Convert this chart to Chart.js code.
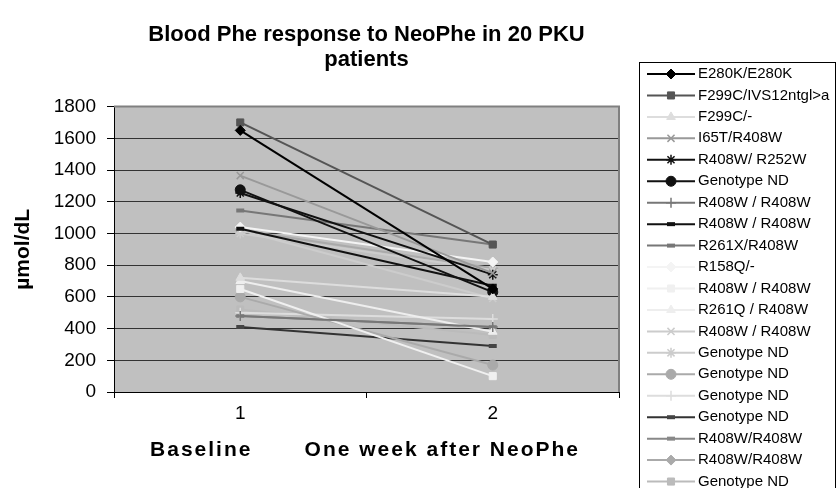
<!DOCTYPE html>
<html>
<head>
<meta charset="utf-8">
<script src="https://cdn.jsdelivr.net/npm/chart.js@4/dist/chart.umd.min.js"></script>
<style>
  html, body { margin: 0; padding: 0; background: #ffffff; }
  #wrap { width: 838px; height: 488px; }
</style>
</head>
<body>
<div id="wrap"><canvas id="c" width="838" height="488"></canvas></div>
<script>
// ---- data ----
const categories = ['1', '2'];
const seriesNames = [
  'E280K/E280K', 'F299C/IVS12ntgl>a', 'F299C/-', 'I65T/R408W', 'R408W/ R252W',
  'Genotype ND', 'R408W / R408W', 'R408W / R408W', 'R261X/R408W', 'R158Q/-',
  'R408W / R408W', 'R261Q / R408W', 'R408W / R408W', 'Genotype ND', 'Genotype ND',
  'Genotype ND', 'Genotype ND', 'R408W/R408W', 'R408W/R408W', 'Genotype ND'
];
const baselineValues = [1650, 1700, 720, 1365, 1255, 1275, 480, 1030, 1145, 1040,
                        650, 700, 1020, 1000, 600, 500, 410, 480, 1020, 520];
const weekValues     = [650, 930, 600, 750, 740, 630, 410, 670, 930, 820,
                        100, 380, 590, 770, 170, 460, 290, 410, 780, 360];
const yTicks = [0, 200, 400, 600, 800, 1000, 1200, 1400, 1600, 1800];
const xTitleParts = ['Baseline', 'One week after NeoPhe'];

// ---- styles ----
const lineColors  = ['#000000', '#555555', '#dddddd', '#999999', '#111111',
                     '#111111', '#777777', '#111111', '#777777', '#f4f4f4',
                     '#f0f0f0', '#eeeeee', '#cccccc', '#cccccc', '#aaaaaa',
                     '#dddddd', '#333333', '#888888', '#aaaaaa', '#bbbbbb'];
const markerColors = ['#000000', '#555555', '#dddddd', '#999999', '#111111',
                     '#111111', '#777777', '#111111', '#777777', '#f4f4f4',
                     '#f0f0f0', '#eeeeee', '#cccccc', '#cccccc', '#aaaaaa',
                     '#dddddd', '#444444', '#888888', '#aaaaaa', '#bbbbbb'];
const markerStyles = ['rectRot', 'rect', 'triangle', 'crossRot', 'star',
                      'circle', 'cross', 'line', 'line', 'rectRot',
                      'rect', 'triangle', 'crossRot', 'star', 'circle',
                      'cross', 'line', 'line', 'rectRot', 'rect'];

const FONT = "'Liberation Sans', Arial, sans-serif";

const datasets = seriesNames.map((name, i) => {
  const st = markerStyles[i];
  const isLine = st === 'line';
  const isStroke = st === 'cross' || st === 'crossRot' || st === 'star' || isLine;
  return {
    label: name,
    data: [baselineValues[i], weekValues[i]],
    borderColor: lineColors[i],
    borderWidth: 2,
    backgroundColor: markerColors[i],
    pointStyle: st,
    pointRadius: isLine ? 4 : 5,
    pointBackgroundColor: markerColors[i],
    pointBorderColor: markerColors[i],
    pointBorderWidth: isLine ? 4 : (isStroke ? 1.5 : 1),
    tension: 0,
    fill: false
  };
});

const plotBg = {
  id: 'plotBg',
  beforeDraw(chart) {
    const {ctx, chartArea: a} = chart;
    ctx.save();
    ctx.fillStyle = '#c0c0c0';
    ctx.fillRect(a.left, a.top, a.right - a.left, a.bottom - a.top);
    ctx.restore();
  },
  beforeDatasetsDraw(chart) {
    const {ctx, chartArea: a} = chart;
    ctx.save();
    ctx.strokeStyle = '#808080';
    ctx.lineWidth = 2;
    ctx.beginPath();
    ctx.moveTo(a.left, a.top);
    ctx.lineTo(a.right, a.top);
    ctx.lineTo(a.right, a.bottom);
    ctx.stroke();
    ctx.restore();
  }
};

// x-axis title: two parts, letter-spaced like the reference
const xTitle = {
  id: 'xTitle',
  afterDraw(chart) {
    const ctx = chart.ctx;
    const xs = chart.scales.x;
    ctx.save();
    ctx.fillStyle = '#000';
    ctx.font = 'bold 21px ' + FONT;
    ctx.letterSpacing = '2px';
    ctx.textBaseline = 'middle';
    ctx.textAlign = 'center';
    ctx.fillText(xTitleParts[0], xs.getPixelForValue(0) - 39, 450);
    ctx.textAlign = 'right';
    ctx.fillText(xTitleParts[1], 580, 450);
    ctx.restore();
  }
};

const legendBox = {
  id: 'legendBox',
  afterDraw(chart) {
    const ctx = chart.ctx;
    ctx.save();
    ctx.strokeStyle = '#000';
    ctx.lineWidth = 1;
    ctx.strokeRect(639.5, 62.5, 196, 440);
    ctx.font = '15px ' + FONT;
    ctx.textBaseline = 'middle';
    ctx.textAlign = 'left';
    chart.data.datasets.forEach((ds, i) => {
      const y = 74 + i * 21.45;
      ctx.strokeStyle = ds.borderColor;
      ctx.lineWidth = 2;
      ctx.beginPath();
      ctx.moveTo(647, y);
      ctx.lineTo(695, y);
      ctx.stroke();
      ctx.fillStyle = ds.pointBackgroundColor;
      ctx.strokeStyle = ds.pointBorderColor;
      ctx.lineWidth = ds.pointBorderWidth;
      Chart.helpers.drawPoint(ctx, {pointStyle: ds.pointStyle, rotation: 0,
        radius: ds.pointRadius, borderWidth: ds.pointBorderWidth}, 671, y);
      ctx.fillStyle = '#000';
      ctx.fillText(ds.label, 698, y);
    });
    ctx.restore();
  }
};

new Chart(document.getElementById('c'), {
  type: 'line',
  data: { labels: categories, datasets },
  options: {
    responsive: false,
    devicePixelRatio: 1,
    animation: false,
    layout: { padding: { left: 0, right: 219, top: 0, bottom: 0 } },
    plugins: {
      legend: { display: false },
      tooltip: { enabled: false },
      title: {
        display: true,
        fullSize: false,
        text: ['Blood Phe response to NeoPhe in 20 PKU', 'patients'],
        color: '#000',
        font: { family: FONT, size: 22, weight: 'bold', lineHeight: 1.15 },
        padding: { top: 22, bottom: 34 }
      }
    },
    scales: {
      x: {
        type: 'category',
        offset: true,
        grid: { display: true, drawOnChartArea: false, drawTicks: true, tickLength: 6,
                offset: true, color: '#000', tickColor: '#000' },
        border: { display: true, color: '#000', width: 1 },
        ticks: { color: '#000', font: { family: FONT, size: 19 }, padding: 4 },
        title: { display: false },
        afterFit(scale) { scale.height = 96; }
      },
      y: {
        min: 0, max: 1800,
        afterBuildTicks(scale) { scale.ticks = yTicks.map(v => ({ value: v })); },
        grid: { color: '#333333', lineWidth: 1, drawTicks: true, tickLength: 7, tickColor: '#000' },
        border: { display: true, color: '#000', width: 1 },
        ticks: { color: '#000', font: { family: FONT, size: 19 }, padding: 11,
                 callback: (v) => String(v) },
        title: {
          display: true,
          text: 'µmol/dL',
          color: '#000',
          font: { family: FONT, size: 21, weight: 'bold' },
          padding: { top: 11, bottom: 0 }
        },
        afterFit(scale) { scale.width = 114; }
      }
    }
  },
  plugins: [plotBg, xTitle, legendBox]
});
</script>
</body>
</html>
